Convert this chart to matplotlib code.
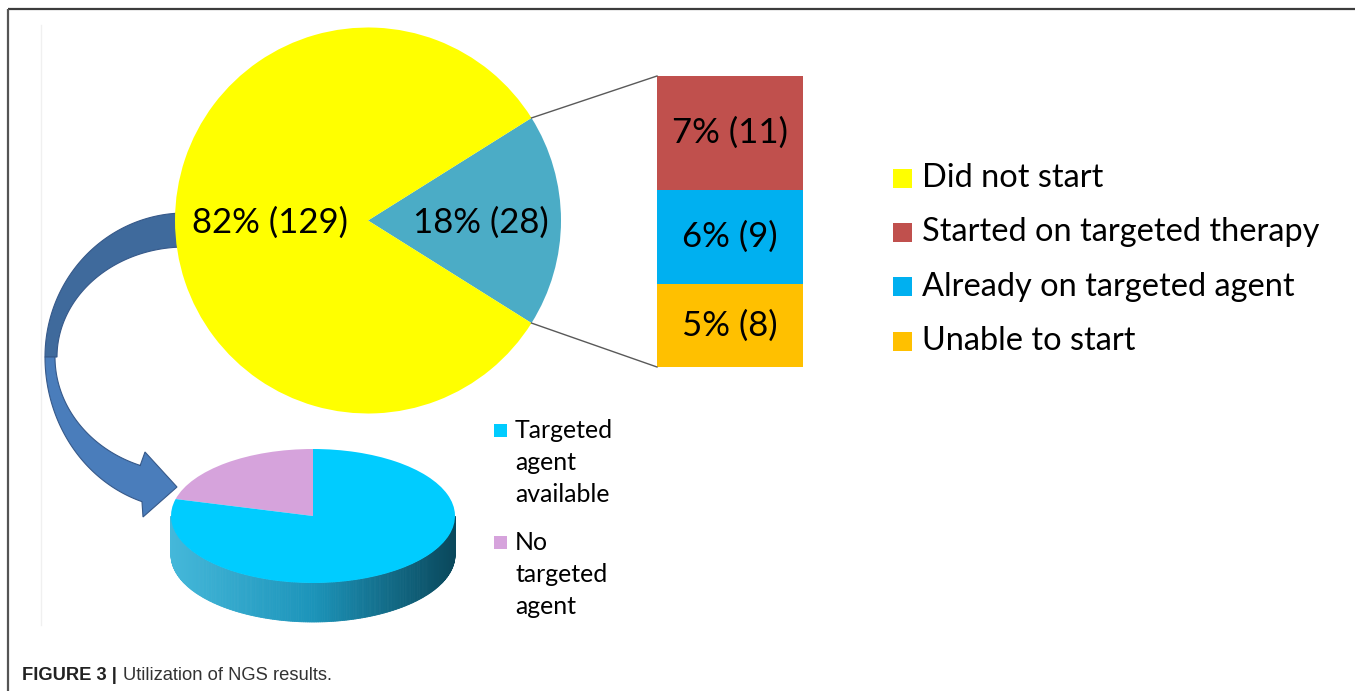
import matplotlib
matplotlib.use("Agg")
import matplotlib.pyplot as plt
import numpy as np
from matplotlib.patches import Rectangle, Polygon

# ---------------- data ----------------
main_pie_labels = ["Did not start", "Started / on / unable"]
main_pie_values = [129, 28]
bar_labels = ["Started on targeted therapy", "Already on targeted agent", "Unable to start"]
bar_values = [11, 9, 8]
sub_labels = ["Targeted\nagent\navailable", "No\ntargeted\nagent"]
sub_values = [102, 27]
caption_bold = "FIGURE 3 |"
caption_text = "Utilization of NGS results."

# ---------------- style ----------------
C_YELLOW = "#FFFF00"
C_TEAL = "#4BACC6"
bar_colors = ["#C0504D", "#00B0F0", "#FFC000"]
sub_colors = ["#00CCFF", "#D6A3DC"]
FONT = "Lato"

W, H = 1355, 691


def Y(y):
    return H - y


fig = plt.figure(figsize=(W / 100, H / 100), dpi=100)
ax = fig.add_axes([0, 0, 1, 1])
ax.set_xlim(0, W)
ax.set_ylim(0, H)
ax.axis("off")
renderer = fig.canvas.get_renderer()


def fit_size(s, width, family=FONT, weight="normal"):
    t = ax.text(0, 0, s, fontsize=20, family=family, weight=weight)
    w = t.get_window_extent(renderer).width
    t.remove()
    return 20 * width / w


def pct_label(v, total):
    return f"{round(100 * v / total)}% ({v})"


# ---------------- frame ----------------
ax.plot([8, W], [Y(8.5), Y(8.5)], color="#3c3c3c", lw=1.6, solid_capstyle="butt", zorder=0)
ax.plot([8, 8], [Y(8.5), 0], color="#555555", lw=1.6, solid_capstyle="butt", zorder=0)
ax.plot([41, 41], [Y(25), Y(625)], color="#F0F0F0", lw=1.0, zorder=0)

# ---------------- curved arrow ----------------
acx, acy = 185, 357


def arc(a, b, t0, t1, n=80):
    t = np.radians(np.linspace(t0, t1, n))
    return np.column_stack([acx + a * np.cos(t), Y(acy - b * np.sin(t))])


up_out = arc(140, 144, 90, 180)
up_in = arc(128, 110, 180, 90)
ax.add_patch(Polygon(np.vstack([up_out, up_in]), closed=True, fc="#3F6A9C",
                     ec="#36598A", lw=0.8, zorder=1))
t_out = 180 + np.degrees(np.arccos((acx - 142) / 140))
t_in = 180 + np.degrees(np.arccos((acx - 140) / 130))
lo_out = arc(140, 152, 180, t_out)
lo_in = arc(130, 115.5, t_in, 180)
head = np.array([[140, Y(466)], [145, Y(452)], [177, Y(487)], [143, Y(517)], [142, Y(502)]])
lower = np.vstack([lo_out, head[::-1][:1], head[::-1][1:], lo_in])
ax.add_patch(Polygon(np.vstack([lo_out, [[142, Y(502)], [143, Y(517)], [177, Y(487)],
                                         [145, Y(452)], [140, Y(466)]], lo_in]),
                     closed=True, fc="#4A7DBB", ec="#36598A", lw=0.8, zorder=1))

# ---------------- main pie ----------------
pc = (368, Y(220.5))
pr = 193
total = sum(main_pie_values)
half = 180 * main_pie_values[1] / total
wedges, _ = ax.pie(main_pie_values[::-1], colors=[C_TEAL, C_YELLOW], startangle=-half,
                   center=pc, radius=pr, wedgeprops=dict(linewidth=0), frame=True)
for w in wedges:
    w.set_zorder(2)
ax.set_xlim(0, W)
ax.set_ylim(0, H)
ax.set_aspect("auto")
ax.axis("off")

fs_main = fit_size(pct_label(main_pie_values[0], total), 156)
ax.text(270, Y(223), pct_label(main_pie_values[0], total), fontsize=fs_main, family=FONT,
        ha="center", va="center", zorder=5)
ax.text(481, Y(223), pct_label(main_pie_values[1], total), fontsize=fs_main, family=FONT,
        ha="center", va="center", zorder=5)

# ---------------- stacked bar ----------------
bar_x, bar_w = 730, 146
bar_bottom, bar_top = 367, 76
scale = (bar_bottom - bar_top) / sum(bar_values)
bottom = Y(bar_bottom)
for lab, v, c in list(zip(bar_labels, bar_values, bar_colors))[::-1]:
    ax.bar(bar_x, v * scale, width=bar_w, bottom=bottom, color=c, linewidth=0, zorder=2)
    ax.text(bar_x, bottom + v * scale / 2, pct_label(v, total), fontsize=fs_main,
            family=FONT, ha="center", va="center", zorder=5)
    bottom += v * scale

# connector lines
ang = np.radians(half)
ex = pc[0] + pr * np.cos(ang)
ey_top = pc[1] + pr * np.sin(ang)
ey_bot = pc[1] - pr * np.sin(ang)
bx = bar_x - bar_w / 2
ax.plot([ex, bx], [ey_top, Y(bar_top)], color="#595959", lw=1.0, zorder=3)
ax.plot([ex, bx], [ey_bot, Y(bar_bottom)], color="#595959", lw=1.0, zorder=3)

# ---------------- main legend ----------------
leg_labels = [main_pie_labels[0]] + bar_labels
leg_colors = [C_YELLOW] + bar_colors
fs_leg = fit_size("Started on targeted therapy", 398)
for i, (lab, c) in enumerate(zip(leg_labels, leg_colors)):
    yc = 178 + i * 54.4
    ax.add_patch(Rectangle((893, Y(yc + 9.5)), 19, 19, fc=c, ec="none", zorder=4))
    ax.text(922, Y(yc), lab, fontsize=fs_leg, family=FONT, ha="left", va="center", zorder=5)

# ---------------- 3D sub pie ----------------
cx3, cy3, a3, b3, d3 = 313, 516, 142, 67, 39
ax3 = fig.add_axes([(cx3 - a3) / W, (H - (cy3 + b3 + d3)) / H, 2 * a3 / W, (2 * b3 + d3) / H])
dd = d3 / b3
stops_x = np.array([-1.0, 0.0, 1.0])
stops_c = np.array([[0x45, 0xB8, 0xDA], [0x1C, 0x94, 0xBA], [0x0A, 0x48, 0x5C]]) / 255.0
ts = np.linspace(np.pi, 2 * np.pi, 241)
for i in range(len(ts) - 1):
    t1, t2 = ts[i], ts[i + 1]
    xm = np.cos((t1 + t2) / 2)
    col = [np.interp(xm, stops_x, stops_c[:, k]) for k in range(3)]
    xs = [np.cos(t1), np.cos(t2), np.cos(t2), np.cos(t1)]
    ys = [np.sin(t1), np.sin(t2), np.sin(t2) - dd, np.sin(t1) - dd]
    p = ax3.fill(xs, ys, color=col, lw=0.6, ec=col)[0]
    p.set_clip_on(False)
sw, _ = ax3.pie(sub_values[::-1], colors=sub_colors[::-1], startangle=90, radius=1,
                wedgeprops=dict(linewidth=0), frame=True)
for w in sw:
    w.set_clip_on(False)
ax3.set_xlim(-1, 1)
ax3.set_ylim(-1 - dd, 1)
ax3.set_aspect("auto")
ax3.axis("off")

sub_total = sum(sub_values)
fs_sub = fit_size(pct_label(sub_values[0], sub_total), 94)
ax.text(370, Y(545), pct_label(sub_values[0], sub_total), fontsize=fs_sub, family=FONT,
        ha="center", va="center", zorder=5)
ax.text(261, Y(482), pct_label(sub_values[1], sub_total), fontsize=fs_sub, family=FONT,
        ha="center", va="center", zorder=5)

# sub legend
fs_subleg = fit_size("available", 95)
for j, (lab, c) in enumerate(zip(sub_labels, sub_colors)):
    y0 = 430 + j * 112
    ax.add_patch(Rectangle((494, Y(y0 + 6.5)), 13, 13, fc=c, ec="none", zorder=4))
    for k, line in enumerate(lab.split("\n")):
        ax.text(515, Y(y0 + k * 32.5), line, fontsize=fs_subleg, family=FONT,
                ha="left", va="center", zorder=5)

# ---------------- caption ----------------
fs_cap = fit_size(caption_bold, 95, family="Liberation Sans", weight="bold")
tb = ax.text(22, Y(675), caption_bold, fontsize=fs_cap, family="Liberation Sans",
             weight="bold", color="#222222", ha="left", va="center")
wb = tb.get_window_extent(renderer).width
ax.text(22 + wb + 6, Y(675), caption_text, fontsize=fs_cap, family="Liberation Sans",
        color="#333333", ha="left", va="center")

fig.savefig("out.png", dpi=100)
